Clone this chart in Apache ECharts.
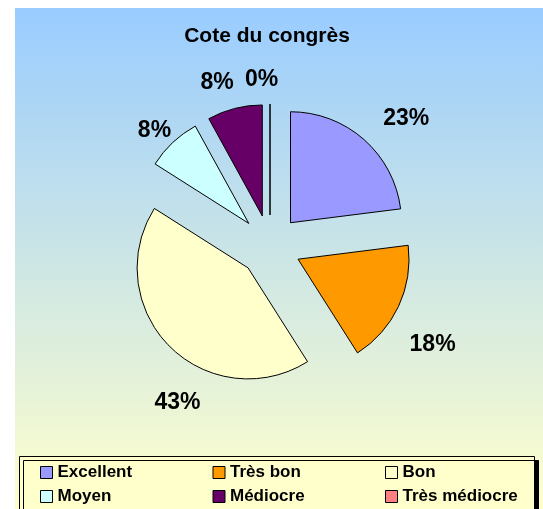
<!DOCTYPE html>
<html>
<head>
<meta charset="utf-8">
<script src="https://cdn.jsdelivr.net/npm/echarts@6/dist/echarts.min.js"></script>
<style>
  html, body { margin: 0; padding: 0; background: #fff; }
  #chart { width: 543px; height: 509px; }
</style>
</head>
<body>
<div id="chart"></div>
<script>
var categories = ['Excellent', 'Très bon', 'Bon', 'Moyen', 'Médiocre', 'Très médiocre'];
var shares = [23, 18, 43, 8, 8, 0];
var sliceColors = ['#9999FF', '#FF9900', '#FFFFCC', '#CCFFFF', '#660066', '#FF8080'];

// the percent labels sit where they were dragged in the original, not on a fixed ring
var labelShift = [[1, -6], [-12, 30], [50, 42], [17, 3], [9, -6], [-30, -4]];

var font = 'Liberation Sans, Arial, sans-serif';

var chart = echarts.init(document.getElementById('chart'), null, { renderer: 'canvas' });

var pieData = categories.map(function (name, i) {
    return {
        name: name,
        value: shares[i],
        selected: true,
        itemStyle: { color: sliceColors[i] }
    };
});

chart.setOption({
    animation: false,
    graphic: [
        {
            type: 'rect',
            z: -10,
            shape: { x: 15, y: 8, width: 528, height: 501 },
            style: {
                fill: new echarts.graphic.LinearGradient(0, 0, 0, 1, [
                    { offset: 0, color: '#99CCFF' },
                    { offset: 1, color: '#FFFFCC' }
                ])
            }
        },
        {
            type: 'rect',
            z: 1,
            shape: { x: 19.5, y: 456.5, width: 515, height: 70 },
            style: {
                fill: '#FFFFCC',
                stroke: '#000',
                lineWidth: 1,
                shadowColor: '#000',
                shadowBlur: 0,
                shadowOffsetX: 4,
                shadowOffsetY: 4
            }
        }
    ],
    title: {
        text: 'Cote du congrès',
        left: 262,
        top: 21,
        textAlign: 'center',
        textStyle: {
            fontFamily: font,
            fontSize: 21,
            fontWeight: 'bold',
            color: '#000'
        }
    },
    legend: {
        data: categories,
        left: 40,
        top: 464,
        width: 540,
        padding: 0,
        itemWidth: 12,
        itemHeight: 12,
        itemGap: 7,
        icon: 'rect',
        selectedMode: false,
        itemStyle: { borderColor: '#000', borderWidth: 1 },
        textStyle: {
            fontFamily: font,
            fontSize: 17,
            fontWeight: 'bold',
            color: '#000',
            width: 148,
            lineHeight: 16,
            padding: [1, 0, 0, 0]
        }
    },
    series: [{
        type: 'pie',
        center: [270, 246],
        radius: 111,
        startAngle: 90,
        clockwise: true,
        selectedMode: 'multiple',
        selectedOffset: 31,
        avoidLabelOverlap: false,
        itemStyle: { borderColor: '#000', borderWidth: 1 },
        emphasis: { disabled: true },
        label: {
            show: true,
            position: 'outside',
            fontFamily: font,
            fontSize: 23,
            fontWeight: 'bold',
            color: '#000',
            formatter: function (p) { return Math.round(p.percent) + '%'; }
        },
        labelLine: { show: false, length: 20, length2: 0 },
        labelLayout: function (params) {
            var s = labelShift[params.dataIndex];
            return { dx: s[0], dy: s[1] };
        },
        data: pieData
    }]
});
</script>
</body>
</html>
